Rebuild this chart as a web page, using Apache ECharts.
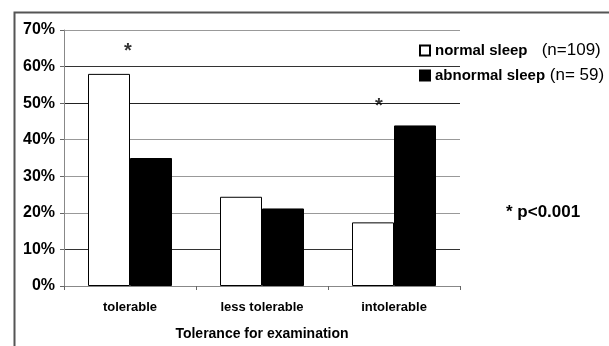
<!DOCTYPE html>
<html><head><meta charset="utf-8">
<script src="https://cdn.jsdelivr.net/npm/echarts@6/dist/echarts.min.js"></script>
<style>html,body{margin:0;padding:0;background:#fff}#c{width:609px;height:346px}</style>
</head><body><div id="c"></div>
<script>
const categories = ['tolerable', 'less tolerable', 'intolerable'];
const normalSleep = [58, 24.4, 17.4];
const abnormalSleep = [35, 21.2, 43.9];
const normalName = 'normal sleep';
const abnormalName = 'abnormal sleep';
const normalN = '(n=109)';
const abnormalN = '(n= 59)';
const yTicks = [0, 10, 20, 30, 40, 50, 60, 70];
const asterisks = [['tolerable', 64], ['intolerable', 49]];
const asteriskOffsets = [[-2, 0], [-15, 0]];

const F = 'Liberation Sans, Arial, sans-serif';
const chart = echarts.init(document.getElementById('c'), null, {renderer: 'canvas'});
chart.setOption({
  animation: false,
  backgroundColor: '#fff',
  grid: {left: 64, right: 149, top: 30, bottom: 59},
  legend: {
    orient: 'vertical', left: 414, top: 37, itemGap: 8,
    itemWidth: 10, itemHeight: 10, icon: 'rect', padding: [5, 0, 5, 5],
    data: [normalName, abnormalName],
    formatter: function (n) {
      return n === normalName ? '{b|' + n + '}{s|   ' + normalN + '}' : '{b|' + n + '}{s| ' + abnormalN + '}';
    },
    textStyle: {
      rich: {
        b: {fontFamily: F, fontWeight: 'bold', fontSize: 15, color: '#000'},
        s: {fontFamily: F, fontSize: 17, color: '#000'}
      }
    }
  },
  xAxis: {
    type: 'category', data: categories,
    axisLine: {lineStyle: {color: '#888', width: 1}},
    axisTick: {show: true, alignWithLabel: false, length: 4, lineStyle: {color: '#666'}},
    axisLabel: {fontFamily: F, fontWeight: 'bold', fontSize: 13, color: '#000', margin: 15},
    name: 'Tolerance for examination', nameLocation: 'middle', nameGap: 41,
    nameTextStyle: {fontFamily: F, fontWeight: 'bold', fontSize: 14, color: '#000'}
  },
  yAxis: {
    type: 'value', min: yTicks[0], max: yTicks[yTicks.length - 1], interval: 10,
    axisLine: {show: true, lineStyle: {color: '#888'}},
    axisTick: {show: true, length: 4, lineStyle: {color: '#666'}},
    axisLabel: {formatter: '{value}%', fontFamily: F, fontWeight: 'bold', fontSize: 16, color: '#000', margin: 9},
    splitLine: {show: true, lineStyle: {color: ['#888', '#333', '#999', '#999', '#999', '#222', '#333', '#999'], width: 1}}
  },
  series: [
    {name: normalName, type: 'bar', data: normalSleep, barWidth: 42, barGap: '0%',
      itemStyle: {color: '#fff', borderColor: '#000', borderWidth: 1}},
    {name: abnormalName, type: 'bar', data: abnormalSleep, barWidth: 42, barGap: '0%',
      itemStyle: {color: '#000', borderColor: '#000', borderWidth: 1}},
    {type: 'scatter', symbol: 'circle', symbolSize: 1, itemStyle: {color: 'rgba(0,0,0,0)'},
      data: asterisks.map((a, i) => ({value: a, label: {offset: asteriskOffsets[i]}})),
      label: {show: true, position: 'inside', formatter: '*', fontFamily: F, fontWeight: 'bold', fontSize: 20, color: '#000'},
      silent: true, z: 5}
  ],
  graphic: [
    {type: 'rect', left: 12, top: 10, shape: {width: 700, height: 400}, style: {fill: null, stroke: '#555', lineWidth: 2}, silent: true, z: -1},
    {type: 'text', left: 506, top: 204, style: {text: '* p<0.001', font: 'bold 17px ' + F, fill: '#000'}}
  ]
});
</script></body></html>
